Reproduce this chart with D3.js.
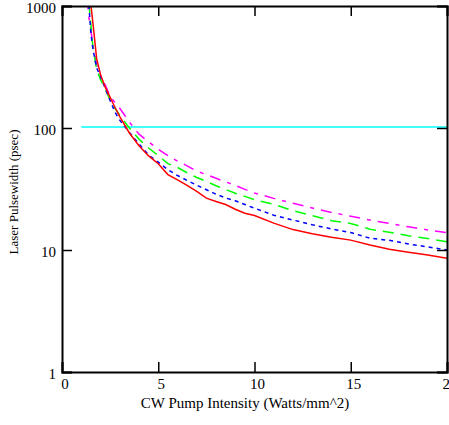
<!DOCTYPE html>
<html>
<head>
<meta charset="utf-8">
<script src="https://cdn.jsdelivr.net/npm/d3@7"></script>
<style>
  body { margin: 0; background: #fff; }
  svg { display: block; }
</style>
</head>
<body>
<div id="chart"></div>
<script>
// pump intensity (Watts/mm^2)
var pumpX = [1.3, 1.4, 1.5, 1.6, 1.8, 2, 2.25, 2.5, 2.75, 3, 3.5, 4, 4.5, 5, 5.5, 6, 6.5, 7, 7.5, 8,
  8.5, 9, 9.5, 10, 11, 12, 13, 14, 15, 16, 17, 18, 19, 20];

// pulsewidth (psec) for each curve
var redWidth = [2000, 1400, 1030, 740, 370, 275, 215, 178, 148, 124, 91, 71.5, 59, 51, 41.5, 37.5, 33.8, 30.2, 26.6, 25,
  23.6, 21.6, 20, 19.2, 16.6, 14.7, 13.6, 12.7, 12.05, 11, 10.15, 9.6, 9.1, 8.55];
var blueWidth = [1600, 1000, 600, 450, 310, 265, 210, 168, 135, 116, 92, 74, 60, 52.5, 45.5, 40.8, 37.2, 34, 31.2, 28.7,
  26.7, 25.3, 23.6, 22, 19.3, 17.6, 16.1, 14.9, 13.9, 12.5, 12, 11.2, 10.6, 10];
var greenWidth = [1500, 1050, 700, 470, 300, 250, 208, 170, 145, 127, 100, 81, 68.5, 59.5, 51, 47.5, 43, 39.3, 36.5, 33.6,
  31.3, 29.2, 27.5, 25.8, 23.7, 21, 19.1, 17.4, 16.5, 14.8, 14, 13.1, 12.4, 11.7];
var magentaWidth = [1150, 800, 640, 480, 330, 270, 225, 181, 162, 145, 112, 89, 77, 67, 59.5, 53.5, 49, 44.3, 41.5, 38.7,
  36.2, 33.8, 31.4, 29.3, 26.5, 24.2, 22.1, 20.3, 18.9, 17.6, 16.5, 15.5, 14.6, 13.9];

// reference line
var refX = [1, 20];
var refWidth = [102, 102];

var xTicks = [0, 5, 10, 15, 20];
var yTicks = [1, 10, 100, 1000];

var width = 449, height = 425;
var margin = {top: 6, right: 2, bottom: 53, left: 62};
var font = "'Liberation Serif', 'Times New Roman', Times, serif";

var svg = d3.select("#chart").append("svg")
  .attr("width", width)
  .attr("height", height);

var x = d3.scaleLinear().domain([0, 20]).range([margin.left, width - margin.right]);
var y = d3.scaleLog().domain([1, 1000]).range([height - margin.bottom, margin.top]);

svg.append("defs").append("clipPath").attr("id", "plot-clip")
  .append("rect")
  .attr("x", x(0)).attr("y", y(1000))
  .attr("width", x(20) - x(0)).attr("height", y(1) - y(1000));

var line = d3.line()
  .x(function(d) { return x(d[0]); })
  .y(function(d) { return y(d[1]); });

var series = [
  {vals: redWidth, color: "#ff0000", dash: null},
  {vals: blueWidth, color: "#0000ff", dash: "4,4"},
  {vals: greenWidth, color: "#00ff00", dash: "11,7"},
  {vals: magentaWidth, color: "#ff00ff", dash: "11,7,4,7"}
];

var plot = svg.append("g").attr("clip-path", "url(#plot-clip)");

plot.append("path")
  .datum(d3.zip(refX, refWidth))
  .attr("fill", "none")
  .attr("stroke", "#00ffff")
  .attr("stroke-width", 1.6)
  .attr("d", line);

// draw back to front so red sits on top
series.slice().reverse().forEach(function(s) {
  plot.append("path")
    .datum(d3.zip(pumpX, s.vals))
    .attr("fill", "none")
    .attr("stroke", s.color)
    .attr("stroke-width", 1.5)
    .attr("stroke-dasharray", s.dash)
    .attr("d", line);
});

// frame with inward ticks on all four sides
svg.append("g")
  .attr("transform", "translate(0," + y(1) + ")")
  .call(d3.axisBottom(x).tickValues(xTicks).tickSize(-10).tickFormat(""));
svg.append("g")
  .attr("transform", "translate(0," + y(1000) + ")")
  .call(d3.axisTop(x).tickValues(xTicks).tickSize(-10).tickFormat(""));
svg.append("g")
  .attr("transform", "translate(" + x(0) + ",0)")
  .call(d3.axisLeft(y).tickValues(yTicks).tickSize(-10).tickFormat(""));
svg.append("g")
  .attr("transform", "translate(" + x(20) + ",0)")
  .call(d3.axisRight(y).tickValues(yTicks).tickSize(-10).tickFormat(""));

svg.selectAll(".domain").attr("stroke", "#000").attr("stroke-width", 2);
svg.selectAll(".tick line").attr("stroke", "#000").attr("stroke-width", 1.5);

// tick labels
svg.append("g").selectAll("text")
  .data(xTicks)
  .enter().append("text")
  .attr("font-family", font)
  .attr("font-size", 15)
  .attr("x", function(d) { return x(d) + 3; })
  .attr("y", y(1) + 17)
  .attr("text-anchor", "middle")
  .text(function(d) { return d; });

svg.append("g").selectAll("text")
  .data(yTicks)
  .enter().append("text")
  .attr("font-family", font)
  .attr("font-size", 15)
  .attr("x", x(0) - 6)
  .attr("y", function(d) { return y(d); })
  .attr("dy", "0.45em")
  .attr("text-anchor", "end")
  .text(function(d) { return d; });

// axis titles
svg.append("text")
  .attr("font-family", font)
  .attr("font-size", 15)
  .attr("x", 245)
  .attr("y", 408)
  .attr("text-anchor", "middle")
  .text("CW Pump Intensity (Watts/mm^2)");

svg.append("text")
  .attr("font-family", font)
  .attr("font-size", 13)
  .attr("transform", "translate(18," + 192 + ") rotate(-90)")
  .attr("text-anchor", "middle")
  .text("Laser Pulsewidth (psec)");
</script>
</body>
</html>
